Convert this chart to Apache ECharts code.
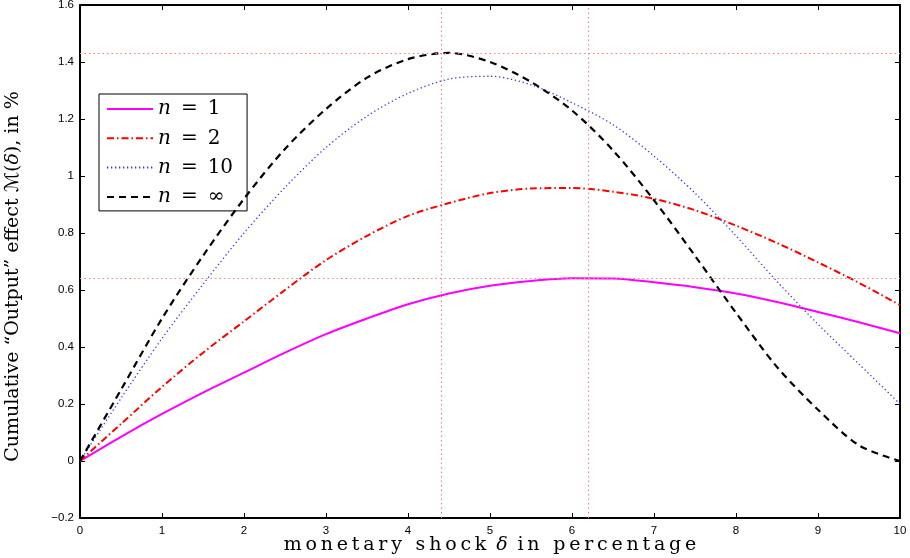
<!DOCTYPE html>
<html>
<head>
<meta charset="utf-8">
<script src="https://cdn.jsdelivr.net/npm/echarts@6/dist/echarts.min.js"></script>
<style>
  html, body { margin: 0; padding: 0; background: #fff; }
  #chart { width: 910px; height: 558px; }
</style>
</head>
<body>
<div id="chart"></div>
<script>
// Monetary shock delta (in %) at which each curve is sampled
const delta = [0, 0.5, 1, 1.5, 2, 2.5, 3, 3.5, 4, 4.5, 5, 5.5, 6, 6.5, 7, 7.5, 8, 8.5, 9, 9.5, 10];

// Cumulative output effect M(delta), in %, for each number of products n
const outN1   = [0, 0.085, 0.165, 0.24, 0.31, 0.38, 0.445, 0.50, 0.55, 0.588, 0.615, 0.632, 0.641, 0.64, 0.627, 0.61, 0.588, 0.558, 0.523, 0.487, 0.448];
const outN2   = [0, 0.13, 0.26, 0.38, 0.49, 0.60, 0.705, 0.79, 0.86, 0.905, 0.94, 0.956, 0.958, 0.945, 0.92, 0.88, 0.826, 0.765, 0.697, 0.625, 0.547];
const outN10  = [0, 0.22, 0.43, 0.62, 0.80, 0.96, 1.10, 1.21, 1.29, 1.34, 1.35, 1.32, 1.257, 1.18, 1.07, 0.94, 0.79, 0.63, 0.48, 0.34, 0.20];
const outNInf = [0, 0.25, 0.50, 0.72, 0.92, 1.095, 1.235, 1.345, 1.41, 1.432, 1.40, 1.33, 1.23, 1.09, 0.915, 0.72, 0.52, 0.33, 0.18, 0.055, 0];

// Peak markers: location and height of the maxima for n = infinity and n = 1
const peakDelta = [4.4, 6.2];
const peakValue = [1.432, 0.643];

// Axis ticks
const xTicks = [0, 1, 2, 3, 4, 5, 6, 7, 8, 9, 10];
const yTicks = [-0.2, 0, 0.2, 0.4, 0.6, 0.8, 1, 1.2, 1.4, 1.6];

const legendNames = ['n1', 'n2', 'n10', 'ninf'];
const legendText = {
  n1: '{i|n}\u2002=\u20021',
  n2: '{i|n}\u2002=\u20022',
  n10: '{i|n}\u2002=\u200210',
  ninf: '{i|n}\u2002=\u2002∞'
};

const pairs = ys => delta.map((d, k) => [d, ys[k]]);
// spread the letters of an axis title a little, like a wide serif setting
const spaced = s => s.split('').join('\u2009');

const chart = echarts.init(document.getElementById('chart'), null, { renderer: 'canvas' });

const serif = 'DejaVu Serif, Liberation Serif, serif';
const tickStyle = { show: true, inside: true, length: 5, lineStyle: { color: '#000', width: 1 } };
const axisLineStyle = { show: true, onZero: false, lineStyle: { color: '#000', width: 2 } };
const labelFont = { color: '#000', fontFamily: 'Liberation Sans, Arial, sans-serif', fontSize: 11.5 };

const refLine = {
  silent: true,
  symbol: 'none',
  label: { show: false },
  lineStyle: { color: '#ff7f7f', type: [1.5, 3], width: 1 },
  data: [
    { xAxis: peakDelta[0] }, { xAxis: peakDelta[1] },
    { yAxis: peakValue[0] }, { yAxis: peakValue[1] }
  ]
};

chart.setOption({
  animation: false,
  backgroundColor: '#fff',
  grid: { left: 80, right: 10, top: 5, bottom: 40, containLabel: false, outerBoundsMode: 'none' },
  legend: {
    left: 99, top: 94,
    orient: 'vertical',
    backgroundColor: '#fff',
    borderColor: '#000', borderWidth: 1,
    padding: [5, 14, 4, 7],
    itemGap: 9.3,
    itemWidth: 46, itemHeight: 20,
    data: legendNames,
    itemStyle: { opacity: 0 },
    formatter: name => legendText[name],
    textStyle: {
      fontFamily: serif,
      fontSize: 20, color: '#000',
      rich: { i: { fontFamily: serif, fontStyle: 'italic', fontSize: 20 } }
    }
  },
  xAxis: [{
    type: 'value', min: 0, max: 10, interval: 1,
    position: 'bottom',
    axisLine: axisLineStyle, axisTick: tickStyle, splitLine: { show: false },
    axisLabel: Object.assign({ margin: 7, formatter: v => xTicks.includes(v) ? String(v) : '' }, labelFont),
    name: '{t|' + spaced('monetary shock') + '\u2009 }{d|δ}{t| \u2009' + spaced('in percentage') + '}',
    nameLocation: 'middle', nameGap: 27,
    nameMoveOverlap: false,
    nameTextStyle: {
      verticalAlign: 'middle',
      rich: {
        t: { fontFamily: serif, fontSize: 19, color: '#000' },
        d: { fontFamily: serif, fontSize: 19, fontStyle: 'italic', color: '#000' }
      }
    }
  }, {
    type: 'value', min: 0, max: 10, interval: 1,
    position: 'top',
    axisLine: axisLineStyle, axisTick: tickStyle, axisLabel: { show: false }, splitLine: { show: false }
  }],
  yAxis: [{
    type: 'value', min: -0.2, max: 1.6, interval: 0.2,
    axisLine: axisLineStyle, axisTick: tickStyle, splitLine: { show: false },
    axisLabel: Object.assign({ margin: 6, formatter: v => {
      const r = Math.round(v * 10) / 10;
      return r < 0 ? '−' + Math.abs(r) : String(r);
    } }, labelFont),
    name: '{t|Cumulative “Output” effect }{m|ℳ}{t|(}{d|δ}{t|), in %}',
    nameLocation: 'middle', nameGap: 57, nameRotate: 90,
    nameTextStyle: {
      padding: [0, 30, 0, 0],
      rich: {
        t: { fontFamily: serif, fontSize: 19, color: '#000' },
        m: { fontFamily: 'DejaVu Sans, DejaVu Serif, serif', fontSize: 19, color: '#000' },
        d: { fontFamily: serif, fontSize: 19, fontStyle: 'italic', color: '#000' }
      }
    }
  }, {
    type: 'value', min: -0.2, max: 1.6, interval: 0.2,
    position: 'right',
    axisLine: axisLineStyle, axisTick: tickStyle, axisLabel: { show: false }, splitLine: { show: false }
  }],
  series: [
    {
      name: 'n1', type: 'line', data: pairs(outN1), smooth: 0.3,
      symbol: 'none', z: 3,
      lineStyle: { color: '#ff00ff', width: 2, type: 'solid' },
      itemStyle: { color: '#ff00ff' },
      markLine: refLine
    },
    {
      name: 'n2', type: 'line', data: pairs(outN2), smooth: 0.3,
      symbol: 'none', z: 3,
      lineStyle: { color: '#ff0000', width: 2, type: [7, 3, 1.5, 3] },
      itemStyle: { color: '#ff0000' }
    },
    {
      name: 'n10', type: 'line', data: pairs(outN10), smooth: 0.3,
      symbol: 'none', z: 3,
      lineStyle: { color: '#3333ff', width: 1.3, type: [1.3, 2.7] },
      itemStyle: { color: '#3333ff' }
    },
    {
      name: 'ninf', type: 'line', data: pairs(outNInf), smooth: 0.3,
      symbol: 'none', z: 4,
      lineStyle: { color: '#000', width: 2.2, type: [7, 5] },
      itemStyle: { color: '#000' }
    }
  ]
});
</script>
</body>
</html>
